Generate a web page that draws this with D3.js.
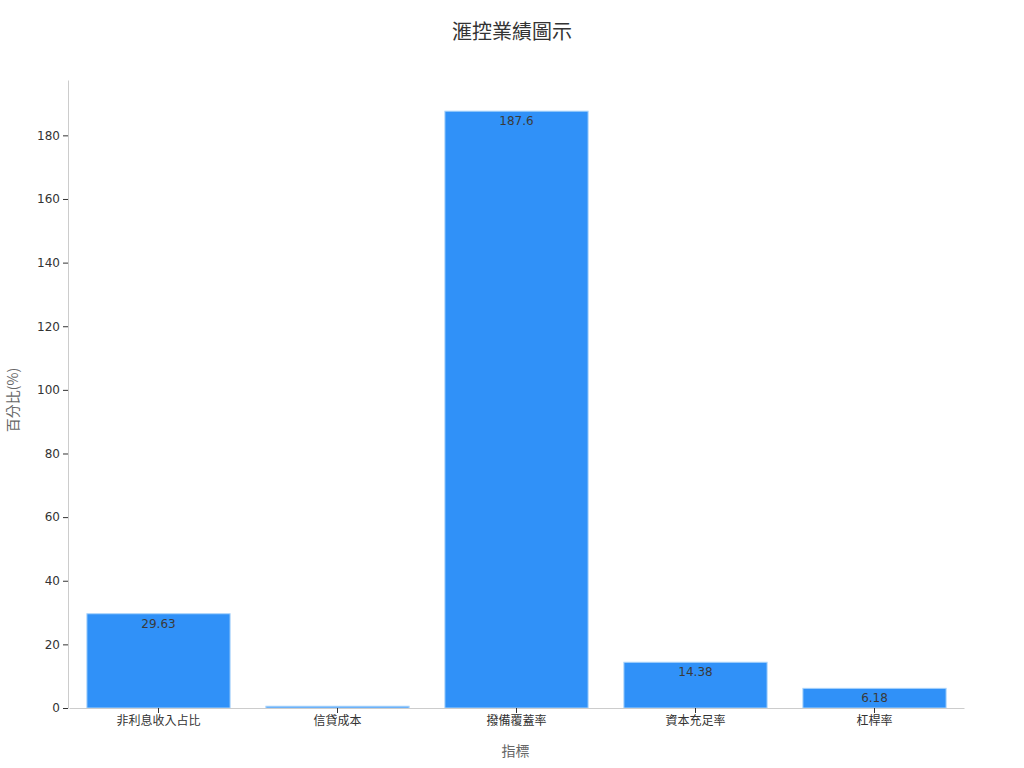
<!DOCTYPE html>
<html>
<head>
<meta charset="utf-8">
<script src="https://cdn.jsdelivr.net/npm/d3@7"></script>
<style>
body{margin:0;background:#fff;}
svg{font-family:"DejaVu Sans","Noto Sans CJK TC",sans-serif;}
</style>
</head>
<body>
<svg id="chart" width="1024" height="768"></svg>
<script>
var categories = ["非利息收入占比","信貸成本","撥備覆蓋率","資本充足率","杠桿率"];
var values = [29.63, 0.55, 187.6, 14.38, 6.18];
var labels = ["29.63","0.55","187.6","14.38","6.18"];
var yTicks = [0,20,40,60,80,100,120,140,160,180];

var margin = {top:80, right:61, bottom:60, left:68};
var width = 1024 - margin.left - margin.right, height = 768 - margin.top - margin.bottom;

var svg = d3.select("#chart");
var g = svg.append("g").attr("transform","translate("+margin.left+","+margin.top+")");

var x = d3.scaleBand().domain(categories).range([1,width+1]).paddingInner(0.2).paddingOuter(0.1);
var y = d3.scaleLinear().domain([0,197.4]).range([height,0]);

// bars
g.selectAll("rect.bar").data(values).enter().append("rect")
	.attr("class","bar")
	.attr("x",function(d,i){return x(categories[i]);})
	.attr("y",function(d){return y(d);})
	.attr("width",x.bandwidth())
	.attr("height",function(d){return y(0)-y(d);})
	.attr("fill","#3091f8")
	.attr("stroke","#a9d3fb")
	.attr("stroke-width",1);

// value labels (only where bar is tall enough)
g.selectAll("text.val").data(values).enter().filter(function(d){return y(0)-y(d) > 10;}).append("text")
	.attr("class","val")
	.attr("x",function(d){return x(categories[values.indexOf(d)])+x.bandwidth()/2;})
	.attr("y",function(d){return y(d)+14;})
	.attr("text-anchor","middle")
	.attr("font-size",12)
	.attr("fill","#3a3a3a")
	.text(function(d){return labels[values.indexOf(d)];});

// y axis
var yAxis = g.append("g").call(d3.axisLeft(y).tickValues(yTicks).tickSize(5).tickSizeOuter(0).tickPadding(3));
yAxis.select(".domain").attr("stroke","#ccc");
yAxis.selectAll(".tick line").attr("stroke","#333");
yAxis.selectAll(".tick text").attr("font-size",12).attr("fill","#333").attr("font-family","DejaVu Sans");

// x axis
var xAxis = g.append("g").attr("transform","translate(0,"+height+")").call(d3.axisBottom(x).tickSize(5).tickPadding(3).tickSizeOuter(0));
xAxis.select(".domain").attr("stroke","#ccc");
xAxis.selectAll(".tick line").attr("stroke","#333");
xAxis.selectAll(".tick text").attr("font-size",12).attr("fill","#333").attr("font-family","Noto Sans CJK TC");

// titles
svg.append("text").attr("x",512).attr("y",39).attr("text-anchor","middle")
	.attr("font-size",20).attr("fill","#333").attr("font-family","Noto Sans CJK TC").text("滙控業績圖示");
svg.append("text").attr("x",margin.left+width/2).attr("y",756).attr("text-anchor","middle")
	.attr("font-size",14).attr("fill","#666").attr("font-family","Noto Sans CJK TC").text("指標");
svg.append("text").attr("transform","translate(18,"+(margin.top+height/2+6)+") rotate(-90)").attr("text-anchor","middle")
	.attr("font-size",14).attr("fill","#666").attr("font-family","Noto Sans CJK TC").text("百分比(%)");
</script>
</body>
</html>
